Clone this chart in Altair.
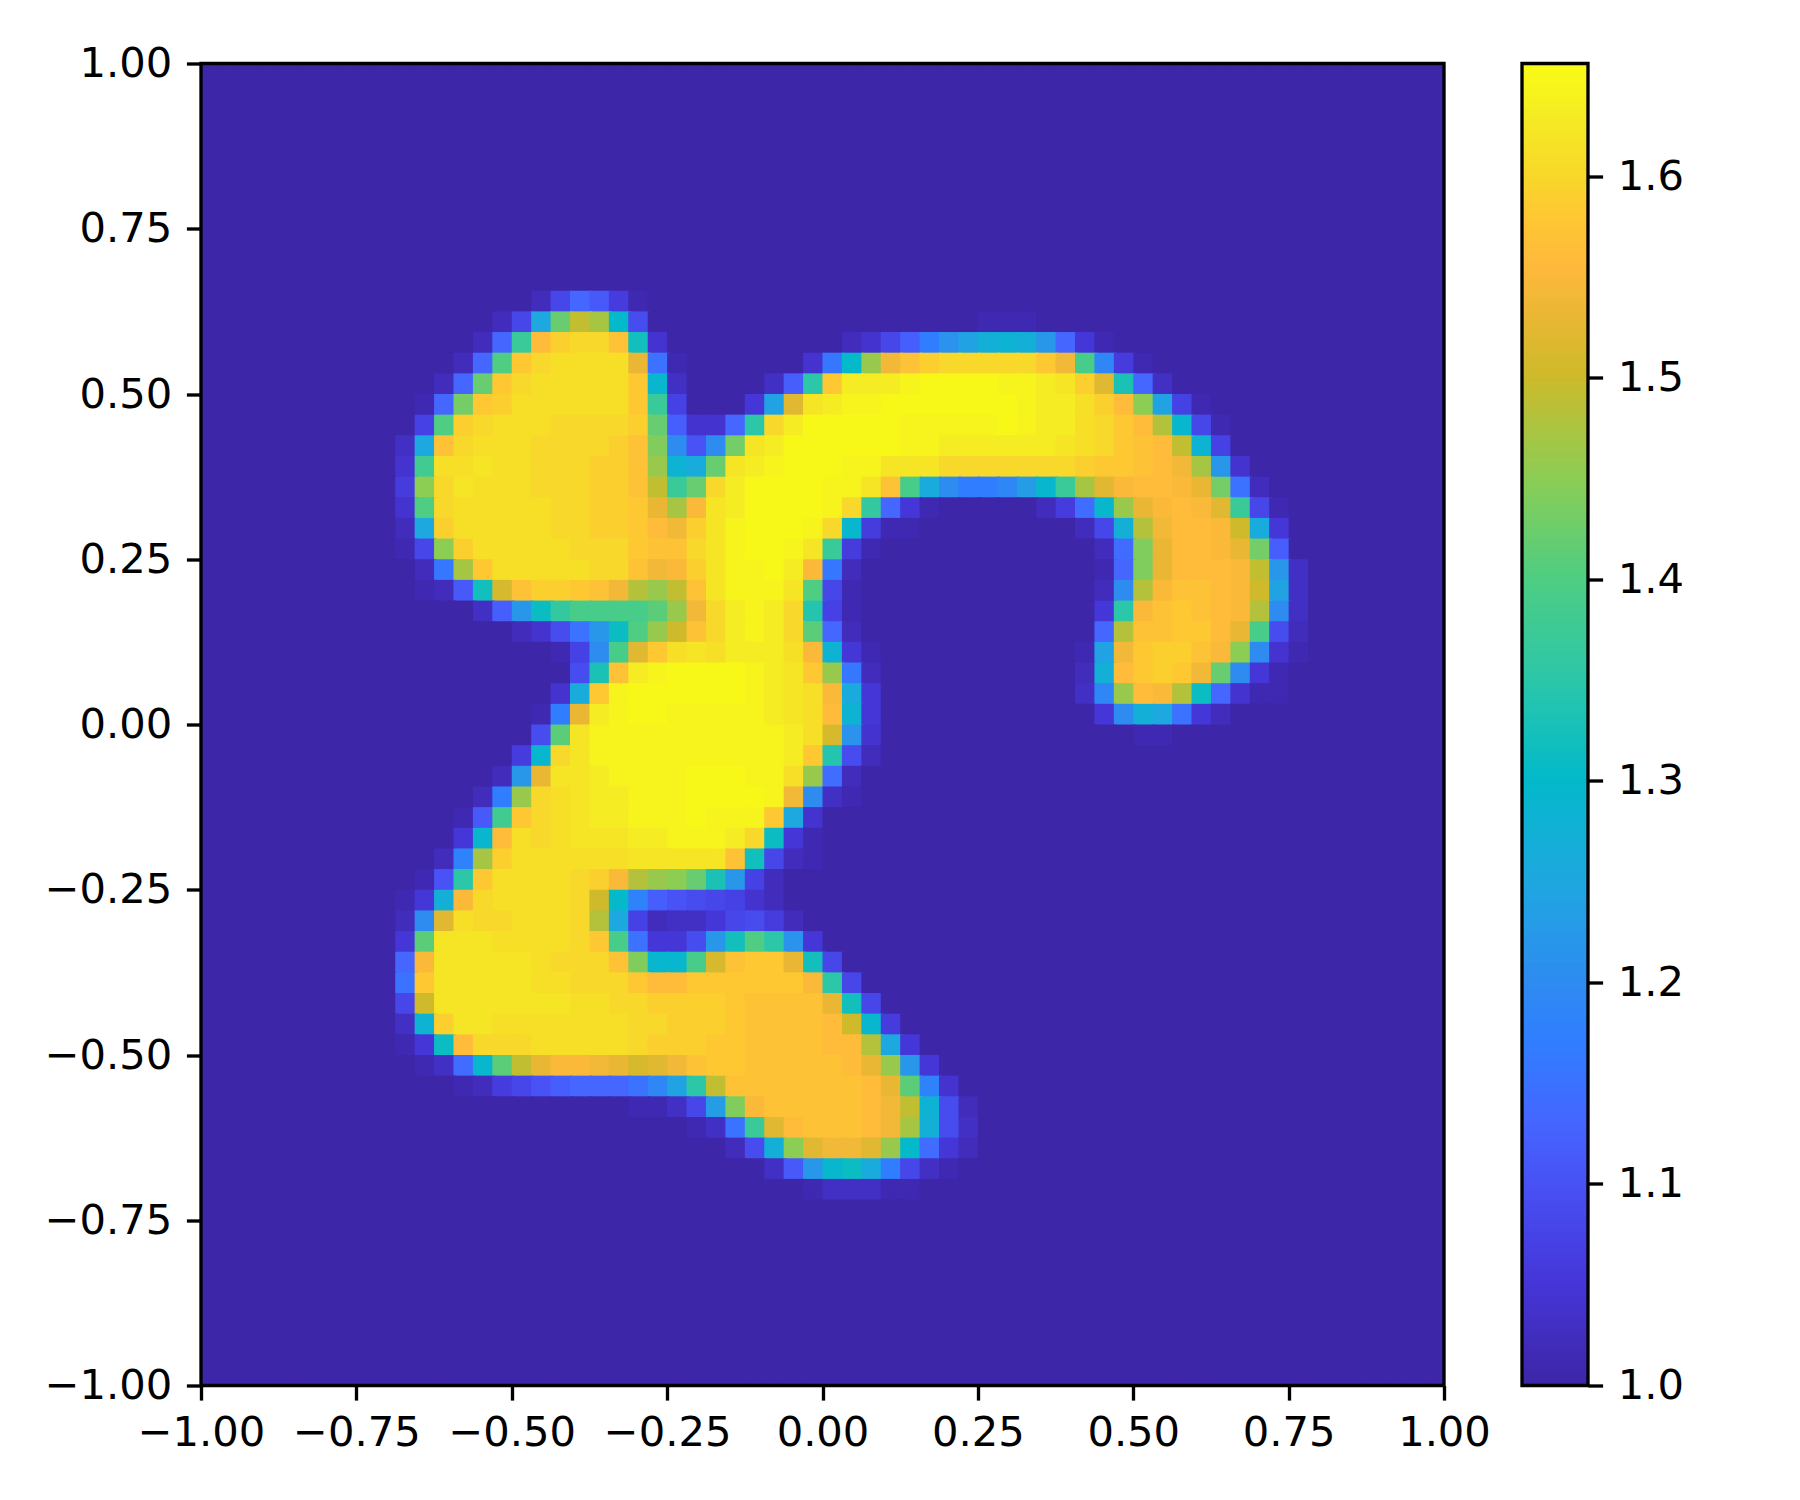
import altair as alt
import pandas as pd

# cell value = 1 + hundredths / 100; rows counted from the top, (first column, values)
ROW_11 = [(17, [2,8,13,11,6,1])]
ROW_12 = [(15, [2,8,25,42,49,47,30,9]), (40, [1,1,1])]
ROW_13 = [(14, [2,13,37,56,59,60,60,57,32,4]), (33, [2,4,8,12,17,21,24,27,28,27,22,13,5,1])]
ROW_14 = [(13, [2,13,40,58,60,61,61,61,61,53,15,1]), (31, [4,16,30,46,54,57,59,60,60,60,60,60,58,54,39,19,6,1])]
ROW_15 = [(12, [2,13,42,58,60,61,61,61,61,61,58,29,3]), (29, [3,12,35,58,63,63,63,64,65,65,65,65,64,64,63,62,59,52,33,13,3])]
ROW_16 = [(11, [1,13,43,58,59,61,61,61,61,61,61,58,37,7]), (28, [5,24,52,62,63,64,64,65,65,65,65,65,65,65,64,63,63,61,59,56,45,24,7,1])]
ROW_17 = [(11, [7,40,59,60,61,61,61,60,60,60,60,59,42,12,4,4,13,35,60,63,65,65,65,65,65,64,64,64,64,64,65,64,63,63,61,60,58,56,48,29,8,1])]
ROW_18 = [(10, [3,25,57,60,61,61,61,60,60,60,60,59,57,44,20,10,20,43,62,63,65,65,65,65,65,65,64,64,63,63,63,63,63,63,62,61,60,58,57,56,49,28,7])]
ROW_19 = [(10, [4,38,61,61,62,61,61,60,60,60,59,59,57,46,28,26,42,62,63,64,65,65,65,64,64,62,62,62,60,60,60,60,60,60,60,59,58,58,57,56,54,47,22,4])]
ROW_20 = [(10, [6,45,60,62,61,61,61,60,60,60,59,59,57,49,37,42,60,63,65,65,65,65,64,64,62,57,39,26,20,17,17,19,23,29,37,47,52,55,56,56,55,53,43,15,2])]
ROW_21 = [(10, [4,40,60,61,61,61,61,61,60,60,59,59,58,53,47,55,62,63,65,65,65,65,64,60,36,13,5,1]), (43, [2,6,14,29,46,53,55,56,55,52,37,8,1])]
ROW_22 = [(10, [2,25,59,61,61,61,61,61,60,60,59,59,58,56,54,59,62,64,65,65,65,64,60,29,6,1,1]), (45, [2,8,27,48,54,56,56,55,50,26,5])]
ROW_23 = [(10, [1,8,45,59,61,61,61,61,61,60,60,60,58,57,57,60,62,64,65,65,64,62,37,6,1]), (46, [2,14,44,53,56,56,55,53,43,12])]
ROW_24 = [(11, [2,16,47,58,61,61,61,61,61,60,60,57,54,55,59,62,64,64,65,63,55,16,2]), (46, [1,13,44,53,56,56,56,55,49,22,3])]
ROW_25 = [(11, [1,2,11,32,51,57,59,59,58,57,54,48,46,49,57,62,64,64,64,62,40,8,1]), (46, [2,20,48,55,57,57,56,55,50,24,3])]
ROW_26 = [(14, [3,12,22,31,36,39,39,39,39,41,46,54,60,63,64,63,60,34,7,1]), (46, [5,35,55,57,58,57,56,55,48,20,3])]
ROW_27 = [(16, [2,4,9,15,22,31,40,46,50,57,60,63,64,63,60,41,13,2]), (46, [13,48,57,57,58,58,56,53,39,9,2])]
ROW_28 = [(18, [1,7,20,39,52,58,61,62,61,63,63,63,61,55,28,5,1]), (45, [1,24,54,58,59,59,57,55,45,20,4,1])]
ROW_29 = [(19, [9,33,57,63,64,65,65,65,65,64,63,62,58,46,16,2]), (45, [2,27,56,58,59,58,54,42,20,5,1])]
ROW_30 = [(18, [4,26,58,64,65,65,65,65,65,65,64,63,62,61,55,26,5]), (45, [3,19,46,56,55,48,31,13,4,1,1])]
ROW_31 = [(17, [1,17,53,63,64,65,65,64,64,64,64,64,63,62,61,56,28,5]), (46, [5,20,27,25,15,5,2])]
ROW_32 = [(17, [9,41,62,64,64,64,64,64,64,64,64,64,64,63,61,51,21,4]), (48, [1,1])]
ROW_33 = [(16, [6,29,60,62,64,64,64,64,64,64,64,64,64,64,63,58,34,9,2])]
ROW_34 = [(15, [2,22,53,62,62,63,64,64,64,64,65,65,65,64,64,61,46,14,2])]
ROW_35 = [(14, [2,17,46,60,61,62,63,63,64,64,64,65,65,65,65,64,54,20,3,1])]
ROW_36 = [(13, [1,11,38,58,60,61,62,63,63,64,64,64,65,64,64,64,58,25,4])]
ROW_37 = [(13, [5,29,56,61,60,61,62,62,62,63,63,64,64,64,63,60,31,5,1])]
ROW_38 = [(12, [2,18,47,59,61,61,61,61,61,61,62,62,62,62,62,57,32,8,2,1])]
ROW_39 = [(11, [1,10,35,58,61,61,61,61,60,59,55,48,46,45,42,33,22,7,2])]
ROW_40 = [(10, [1,5,27,55,60,61,61,61,61,60,50,30,18,12,10,9,8,7,4,2])]
ROW_41 = [(10, [2,20,52,61,60,60,61,61,61,60,48,25,7,2,3,3,5,8,9,6,2])]
ROW_42 = [(10, [5,41,62,62,62,61,61,61,61,60,58,39,15,5,5,9,22,32,40,35,21,5])]
ROW_43 = [(10, [13,55,62,62,62,62,62,61,60,60,60,57,44,29,29,39,51,57,58,58,53,32,8])]
ROW_44 = [(10, [15,58,62,62,62,62,62,61,61,60,60,60,58,56,56,58,58,58,58,58,58,55,35,8])]
ROW_45 = [(10, [8,50,62,62,62,62,62,62,62,61,61,60,60,59,59,59,59,58,57,57,57,57,53,32,8])]
ROW_46 = [(10, [3,28,59,62,62,61,61,61,61,61,61,61,60,60,59,59,59,58,57,57,57,57,56,50,29,6])]
ROW_47 = [(10, [1,5,31,56,60,60,60,61,61,61,61,61,60,59,59,59,58,58,57,57,57,57,56,56,48,25,5])]
ROW_48 = [(11, [1,3,14,29,41,49,53,55,55,54,53,51,52,54,57,58,58,57,57,57,57,57,56,53,46,22,5])]
ROW_49 = [(13, [1,2,6,8,10,12,13,13,13,15,19,24,35,49,57,57,57,57,57,57,57,56,53,41,18,4])]
ROW_50 = [(22, [1,1,3,8,23,44,55,57,57,57,57,57,56,54,49,28,9,2])]
ROW_51 = [(25, [1,3,15,37,52,56,57,57,57,56,54,47,27,9,3])]
ROW_52 = [(27, [2,9,27,45,52,54,54,52,46,30,14,5,2])]
ROW_53 = [(29, [3,11,22,29,31,26,17,8,3,1])]
ROW_54 = [(31, [1,3,3,3,1,1])]

ROWS = {11: ROW_11, 12: ROW_12, 13: ROW_13, 14: ROW_14, 15: ROW_15, 16: ROW_16, 17: ROW_17,
        18: ROW_18, 19: ROW_19, 20: ROW_20, 21: ROW_21, 22: ROW_22, 23: ROW_23, 24: ROW_24,
        25: ROW_25, 26: ROW_26, 27: ROW_27, 28: ROW_28, 29: ROW_29, 30: ROW_30, 31: ROW_31,
        32: ROW_32, 33: ROW_33, 34: ROW_34, 35: ROW_35, 36: ROW_36, 37: ROW_37, 38: ROW_38,
        39: ROW_39, 40: ROW_40, 41: ROW_41, 42: ROW_42, 43: ROW_43, 44: ROW_44, 45: ROW_45,
        46: ROW_46, 47: ROW_47, 48: ROW_48, 49: ROW_49, 50: ROW_50, 51: ROW_51, 52: ROW_52,
        53: ROW_53, 54: ROW_54}

N = 64
VMIN, VMAX = 1.0, 1.656
AXIS_TICKS = [-1.0, -0.75, -0.5, -0.25, 0.0, 0.25, 0.5, 0.75, 1.0]
CBAR_TICKS = [1.0, 1.1, 1.2, 1.3, 1.4, 1.5, 1.6]
STOP_VALUES = [1.00, 1.05, 1.10, 1.13, 1.17, 1.20, 1.25, 1.30, 1.35, 1.40, 1.45, 1.50, 1.53, 1.555, 1.58, 1.60, 1.63, 1.645, 1.656]
STOP_COLORS = ["#3e26a8", "#4536d8", "#4852f5", "#4566ff", "#307eff", "#2e8cf0", "#1ea8e0", "#03b9ca", "#2cc7a8",
               "#4fcd82", "#8ccd54", "#ceba2a", "#eab734", "#ffb93c", "#fec832", "#f8d82a", "#f5ec23", "#f8f61a", "#f9fb15"]

grid = [[0] * N for _ in range(N)]
for r, segments in ROWS.items():
    for start, vals in segments:
        for i, v in enumerate(vals):
            grid[r][start + i] = v

step = 2.0 / N
overlap = 0.004  # each cell runs under its right and lower neighbours, so no seams show
cells = pd.DataFrame([
    {"x": -1 + c * step, "x2": min(1, -1 + (c + 1) * step + overlap),
     "y": 1 - r * step, "y2": max(-1, 1 - (r + 1) * step - overlap),
     "v": 1 + grid[r][c] / 100}
    for r in range(N) for c in range(N)
])

color_scale = alt.Scale(domain=STOP_VALUES, range=STOP_COLORS, interpolate="rgb", clamp=True)

FONT = "DejaVu Sans"
FS = 41.67
LW = 3.33
TICK = 14.6
label_expr = "replace(format(datum.value, '.2f'), '-', '\u2212')"


def axis_kw(**kw):
    base = dict(title=None, grid=False, domain=False, tickColor="black", tickWidth=LW, tickSize=TICK,
                labelFont=FONT, labelFontSize=FS, labelColor="black", labelPadding=TICK,
                labelOverlap=False, labelFlush=False, labelBound=False)
    base.update(kw)
    return alt.Axis(**base)


pos_scale = alt.Scale(domain=[-1, 1], nice=False, zero=False)

heat = alt.Chart(cells).mark_rect(strokeWidth=0).encode(
    x=alt.X("x:Q", scale=pos_scale, axis=axis_kw(values=AXIS_TICKS, labelExpr=label_expr, labelPadding=12)),
    x2="x2:Q",
    y=alt.Y("y:Q", scale=pos_scale, axis=axis_kw(values=AXIS_TICKS, labelExpr=label_expr)),
    y2="y2:Q",
    color=alt.Color("v:Q", scale=color_scale, legend=None),
)

frame = pd.DataFrame({"a": [-1], "b": [1]})
spine = alt.Chart(frame).mark_rect(fill=None, stroke="black", strokeWidth=LW).encode(
    x=alt.X("a:Q", scale=pos_scale), x2="b:Q",
    y=alt.Y("a:Q", scale=pos_scale), y2="b:Q",
)

main = alt.layer(heat, spine).properties(width=1243, height=1322)

BAR_STEPS = 328
bar_rows = pd.DataFrame([
    {"lo": VMIN + (VMAX - VMIN) * i / BAR_STEPS,
     "hi": min(VMAX, VMIN + (VMAX - VMIN) * (i + 1.5) / BAR_STEPS)}
    for i in range(BAR_STEPS)
])
bar_scale = alt.Scale(domain=[VMIN, VMAX], nice=False, zero=False)
bar = alt.Chart(bar_rows).mark_rect(strokeWidth=0).encode(
    x=alt.value(0), x2=alt.value(66),
    y=alt.Y("lo:Q", scale=bar_scale,
            axis=axis_kw(orient="right", values=CBAR_TICKS, format=".1f")),
    y2="hi:Q",
    color=alt.Color("lo:Q", scale=color_scale, legend=None),
)
bar_frame_data = pd.DataFrame({"a": [VMIN], "b": [VMAX]})
bar_frame = alt.Chart(bar_frame_data).mark_rect(fill=None, stroke="black", strokeWidth=LW).encode(
    x=alt.value(0), x2=alt.value(66),
    y=alt.Y("a:Q", scale=bar_scale), y2="b:Q",
)
cbar = alt.layer(bar, bar_frame).properties(width=66, height=1322)

chart = alt.hconcat(main, cbar, spacing=78, bounds="flush").resolve_scale(
    color="independent", x="independent", y="independent"
).properties(
    padding={"left": 36, "top": 35.5, "right": 10, "bottom": 10}, background="white"
).configure_view(stroke=None)

chart.save("out.html", embed_options={"renderer": "svg", "actions": False})
